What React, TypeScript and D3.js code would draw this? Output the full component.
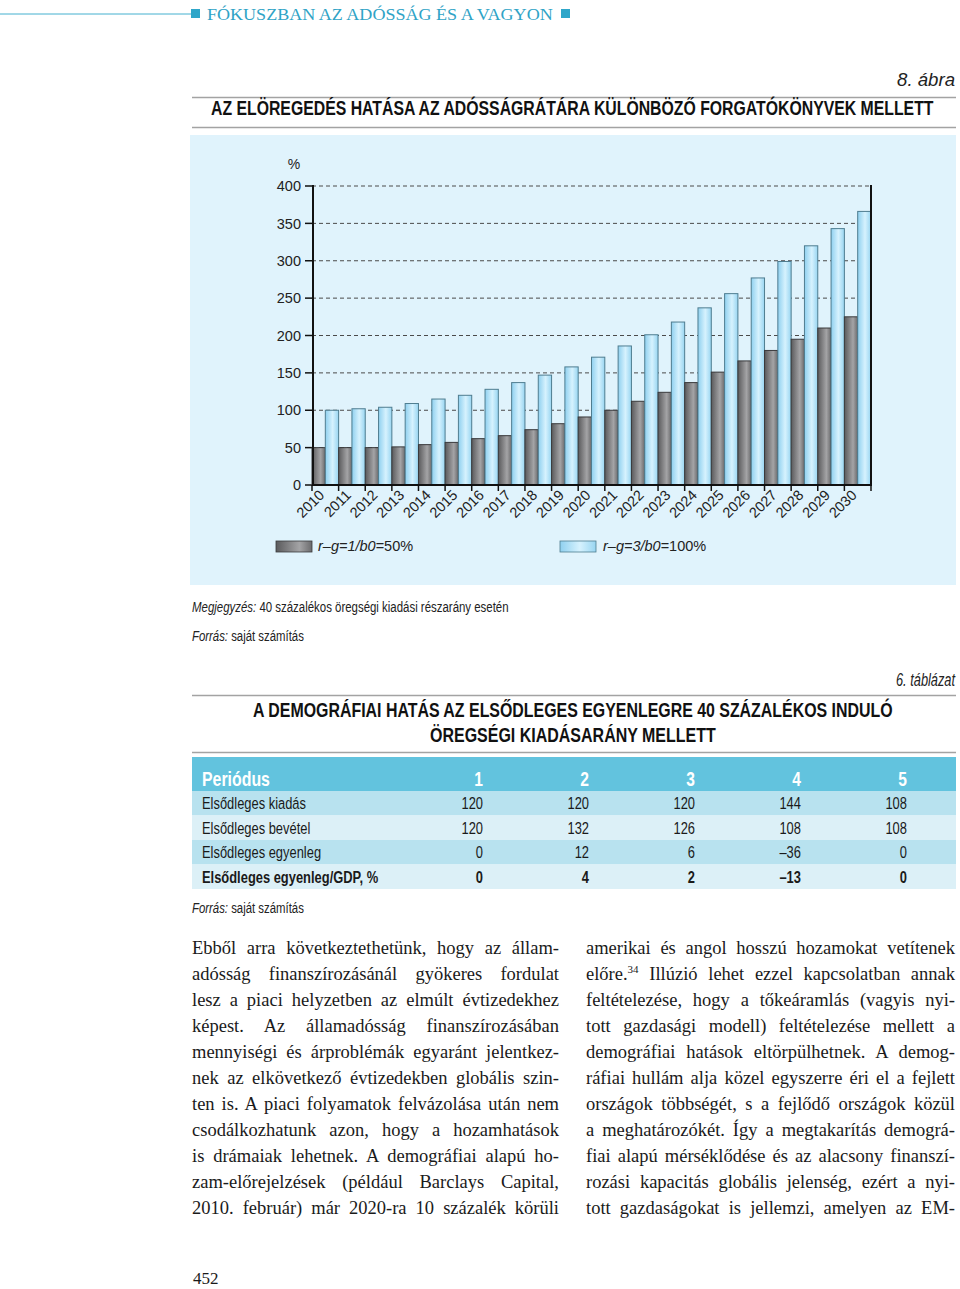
import React, { useEffect, useRef } from 'react';
import * as d3 from 'd3';

// chart data
const years = ['2010', '2011', '2012', '2013', '2014', '2015', '2016', '2017', '2018', '2019', '2020',
  '2021', '2022', '2023', '2024', '2025', '2026', '2027', '2028', '2029', '2030'];
const debtLow = [50, 50, 50, 51, 54, 57, 62, 66, 74, 82, 91, 100, 112, 124, 137, 151, 166, 180, 195, 210, 225];
const debtHigh = [100, 102, 104, 109, 115, 120, 128, 137, 147, 158, 171, 186, 201, 218, 237, 256, 277, 299, 320, 343, 366];
const yTicks = [0, 50, 100, 150, 200, 250, 300, 350, 400];

// table data
const periods = [1, 2, 3, 4, 5];
const rowNames = ['Elsődleges kiadás', 'Elsődleges bevétel', 'Elsődleges egyenleg', 'Elsődleges egyenleg/GDP, %'];
const primarySpending = [120, 120, 120, 144, 108];
const primaryRevenue = [120, 132, 126, 108, 108];
const primaryBalance = [0, 12, 6, -36, 0];
const balanceToGdp = [0, 4, 2, -13, 0];

const leftLines = [
  'Ebből arra következtethetünk, hogy az állam-',
  'adósság finanszírozásánál gyökeres fordulat',
  'lesz a piaci helyzetben az elmúlt évtizedekhez',
  'képest. Az államadósság finanszírozásában',
  'mennyiségi és árproblémák egyaránt jelentkez-',
  'nek az elkövetkező évtizedekben globális szin-',
  'ten is. A piaci folyamatok felvázolása után nem',
  'csodálkozhatunk azon, hogy a hozamhatások',
  'is drámaiak lehetnek. A demográfiai alapú ho-',
  'zam-előrejelzések (például Barclays Capital,',
  '2010. február) már 2020-ra 10 százalék körüli',
];
const rightLines = [
  'amerikai és angol hosszú hozamokat vetítenek',
  'előre.|34| Illúzió lehet ezzel kapcsolatban annak',
  'feltételezése, hogy a tőkeáramlás (vagyis nyi-',
  'tott gazdasági modell) feltételezése mellett a',
  'demográfiai hatások eltörpülhetnek. A demog-',
  'ráfiai hullám alja közel egyszerre éri el a fejlett',
  'országok többségét, s a fejlődő országok közül',
  'a meghatározókét. Így a megtakarítás demográ-',
  'fiai alapú mérséklődése és az alacsony finanszí-',
  'rozási kapacitás globális jelenség, ezért a nyi-',
  'tott gazdaságokat is jellemzi, amelyen az EM-',
];

const SANS = "'Liberation Sans', Arial, sans-serif";
const SERIF = "'Liberation Serif', 'DejaVu Serif', serif";

const fmt = (v: number) => (v < 0 ? '–' + Math.abs(v) : String(v));
// horizontal squeeze around an x origin, to fake a condensed face
const squeeze = (ox: number, k = 0.8) => `translate(${ox},0) scale(${k},1) translate(${-ox},0)`;

export default function App() {
  const svgRef = useRef<SVGSVGElement>(null);

  const x = d3.scaleBand().domain(years).range([312, 871]).padding(0);
  const y = d3.scaleLinear().domain([0, 400]).range([485, 186]);
  const half = x.bandwidth() / 2;

  const colX = d3.scalePoint<number>().domain(periods).range([483, 907]);
  const rowY = d3.scaleBand().domain(rowNames).range([791, 889]);
  const rows = [primarySpending, primaryRevenue, primaryBalance, balanceToGdp];
  const rowFill = ['#b8e2ef', '#dcf0f7', '#b8e2ef', '#dcf0f7'];

  useEffect(() => {
    const svg = d3.select(svgRef.current);
    // justify body text lines with word spacing
    svg.selectAll<SVGTextElement, unknown>('text.just').each(function () {
      const target = +(this.getAttribute('data-w') || 0);
      const natural = this.getComputedTextLength();
      const spaces = (this.textContent || '').split(' ').length - 1;
      if (spaces > 0) d3.select(this).attr('word-spacing', (target - natural) / spaces);
    });
    // squeeze condensed headings to their measured width
    svg.selectAll<SVGTextElement, unknown>('text.fit').each(function () {
      const target = +(this.getAttribute('data-w') || 0);
      const ox = +(this.getAttribute('data-ox') || 0);
      const natural = this.getComputedTextLength();
      d3.select(this).attr('transform', squeeze(ox, target / natural));
    });
  }, []);

  const bodyLine = (line: string, i: number, x0: number, w: number) => {
    const parts = line.split('|');
    return (
      <text key={x0 + '-' + i} className="just" data-w={w} x={x0} y={954 + i * 26}
        fontFamily={SERIF} fontSize={18.5} fill="#1a1a1a">
        {parts.length === 1 ? line : [
          <tspan key="a">{parts[0]}</tspan>,
          <tspan key="b" fontSize={11} dy={-7}>{parts[1]}</tspan>,
          <tspan key="c" dy={7}>{parts[2]}</tspan>,
        ]}
      </text>
    );
  };

  return (
    <svg ref={svgRef} width={960} height={1289} style={{ position: 'absolute', left: 0, top: 0 }}>
      <defs>
        <linearGradient id="gDark" x1="0" x2="1" y1="0" y2="0">
          <stop offset="0%" stopColor="#5a5a5c" />
          <stop offset="65%" stopColor="#a4a4a6" />
          <stop offset="100%" stopColor="#6a6a6c" />
        </linearGradient>
        <linearGradient id="gLight" x1="0" x2="1" y1="0" y2="0">
          <stop offset="0%" stopColor="#8fd0ef" />
          <stop offset="55%" stopColor="#d6f2fe" />
          <stop offset="100%" stopColor="#98d5f1" />
        </linearGradient>
      </defs>
      <rect width={960} height={1289} fill="#fff" />

      {/* running header */}
      <line x1={0} x2={192} y1={14} y2={14} stroke="#45b0cf" strokeWidth={1} />
      <rect x={191} y={9} width={9} height={9} fill="#2fa6c9" />
      <text className="fit" data-w={346} data-ox={207} x={207} y={20} fontFamily={SERIF} fontSize={17.5} fill="#2fa3c6">
        FÓKUSZBAN AZ ADÓSSÁG ÉS A VAGYON
      </text>
      <rect x={561} y={9} width={9} height={9} fill="#2fa6c9" />

      {/* figure title */}
      <text className="fit" data-w={58} data-ox={955} x={955} y={86} textAnchor="end" fontFamily={SANS} fontStyle="italic" fontSize={18} fill="#222">8. ábra</text>
      <line x1={192} x2={956} y1={97.5} y2={97.5} stroke="#a3a3a3" strokeWidth={1.5} />
      <text className="fit" data-w={723} data-ox={211} x={211} y={115} fontFamily={SANS} fontWeight="bold" fontSize={20.5} fill="#111">
        AZ ELÖREGEDÉS HATÁSA AZ ADÓSSÁGRÁTÁRA KÜLÖNBÖZŐ FORGATÓKÖNYVEK MELLETT
      </text>
      <line x1={192} x2={956} y1={127.5} y2={127.5} stroke="#a3a3a3" strokeWidth={1.5} />

      {/* chart panel */}
      <rect x={190} y={135} width={766} height={450} fill="#e0f3fc" />
      <text x={294} y={169} textAnchor="middle" fontFamily={SANS} fontSize={14} fill="#222">%</text>
      {yTicks.map(t => (
        <g key={t}>
          {t > 0 && <line x1={312} x2={871} y1={y(t)} y2={y(t)} stroke="#4a4a4a" strokeWidth={1} strokeDasharray="4,3" />}
          <line x1={305} x2={313} y1={y(t)} y2={y(t)} stroke="#111" strokeWidth={1.5} />
          <text x={301} y={y(t)} dy="0.36em" textAnchor="end" fontFamily={SANS} fontSize={14.5} fill="#222">{t}</text>
        </g>
      ))}
      {years.map((yr, i) => (
        <g key={yr}>
          <rect x={x(yr)!} y={y(debtLow[i])} width={half} height={y(0) - y(debtLow[i])}
            fill="url(#gDark)" stroke="#3a3a3c" strokeWidth={1} />
          <rect x={x(yr)! + half} y={y(debtHigh[i])} width={half} height={y(0) - y(debtHigh[i])}
            fill="url(#gLight)" stroke="#4f7d90" strokeWidth={1} />
        </g>
      ))}
      <line x1={313} x2={313} y1={185} y2={486} stroke="#111" strokeWidth={2} />
      <line x1={871} x2={871} y1={185} y2={486} stroke="#111" strokeWidth={2} />
      <line x1={312} x2={872} y1={485} y2={485} stroke="#111" strokeWidth={2} />
      {years.concat(['end']).map((yr, i) => {
        const tx = i < years.length ? x(yr)! : 871;
        return <line key={'t' + yr} x1={tx} x2={tx} y1={485} y2={491} stroke="#111" strokeWidth={1.5} />;
      })}
      {years.map(yr => {
        const cx = x(yr)! + half;
        return (
          <text key={'l' + yr} transform={`translate(${cx},${496}) rotate(-45)`} textAnchor="end"
            fontFamily={SANS} fontSize={14.5} fill="#222">{yr}</text>
        );
      })}

      {/* legend */}
      <rect x={276} y={541} width={36} height={11} fill="url(#gDark)" stroke="#3a3a3c" strokeWidth={0.8} />
      <text x={318} y={551} fontFamily={SANS} fontSize={14.5} fill="#222">
        <tspan fontStyle="italic">r–g=1/b0</tspan><tspan>=50%</tspan>
      </text>
      <rect x={560} y={541} width={36} height={11} fill="url(#gLight)" stroke="#4f7d90" strokeWidth={0.8} />
      <text x={603} y={551} fontFamily={SANS} fontSize={14.5} fill="#222">
        <tspan fontStyle="italic">r–g=3/b0</tspan><tspan>=100%</tspan>
      </text>

      {/* notes */}
      <text className="fit" data-w={317} data-ox={192} x={192} y={612} fontFamily={SANS} fontSize={15.5} fill="#222">
        <tspan fontStyle="italic">Megjegyzés:</tspan> 40 százalékos öregségi kiadási részarány esetén
      </text>
      <text className="fit" data-w={112} data-ox={192} x={192} y={641} fontFamily={SANS} fontSize={15.5} fill="#222">
        <tspan fontStyle="italic">Forrás:</tspan> saját számítás
      </text>

      {/* table */}
      <text className="fit" data-w={59} data-ox={955} x={955} y={686} textAnchor="end" fontFamily={SANS} fontStyle="italic" fontSize={18} fill="#222">6. táblázat</text>
      <line x1={192} x2={956} y1={695.5} y2={695.5} stroke="#a3a3a3" strokeWidth={1.5} />
      <text className="fit" data-w={640} data-ox={253} x={253} y={717} fontFamily={SANS} fontWeight="bold" fontSize={20.5} fill="#111">
        A DEMOGRÁFIAI HATÁS AZ ELSŐDLEGES EGYENLEGRE 40 SZÁZALÉKOS INDULÓ
      </text>
      <text className="fit" data-w={286} data-ox={430} x={430} y={742} fontFamily={SANS} fontWeight="bold" fontSize={20.5} fill="#111">
        ÖREGSÉGI KIADÁSARÁNY MELLETT
      </text>
      <line x1={192} x2={956} y1={752.5} y2={752.5} stroke="#a3a3a3" strokeWidth={1.5} />
      <rect x={192} y={757} width={764} height={34} fill="#62c3de" />
      <text className="fit" data-w={68} data-ox={202} x={202} y={786} fontFamily={SANS} fontWeight="bold" fontSize={19.5} fill="#fff">Periódus</text>
      {periods.map(p => (
        <text key={'h' + p} transform={squeeze(colX(p)!)} x={colX(p)} y={786} textAnchor="end" fontFamily={SANS} fontWeight="bold" fontSize={19.5} fill="#fff">{p}</text>
      ))}
      {rowNames.map((name, r) => {
        const ry = rowY(name)!;
        const bold = r === rowNames.length - 1;
        return (
          <g key={name}>
            <rect x={192} y={ry} width={764} height={rowY.bandwidth()} fill={rowFill[r]} />
            <text transform={squeeze(202, 0.76)} x={202} y={ry + 18.5} fontFamily={SANS} fontWeight={bold ? 'bold' : 'normal'} fontSize={17} fill="#1a1a1a">{name}</text>
            {periods.map((p, c) => (
              <text key={p} transform={squeeze(colX(p)!, 0.76)} x={colX(p)} y={ry + 18.5} textAnchor="end" fontFamily={SANS}
                fontWeight={bold ? 'bold' : 'normal'} fontSize={17} fill="#1a1a1a">{fmt(rows[r][c])}</text>
            ))}
          </g>
        );
      })}
      <text className="fit" data-w={112} data-ox={192} x={192} y={913} fontFamily={SANS} fontSize={15.5} fill="#222">
        <tspan fontStyle="italic">Forrás:</tspan> saját számítás
      </text>

      {/* body text */}
      {leftLines.map((l, i) => bodyLine(l, i, 192, 367))}
      {rightLines.map((l, i) => bodyLine(l, i, 586, 369))}

      <text x={193} y={1284} fontFamily={SERIF} fontSize={17} fill="#1a1a1a">452</text>
    </svg>
  );
}
